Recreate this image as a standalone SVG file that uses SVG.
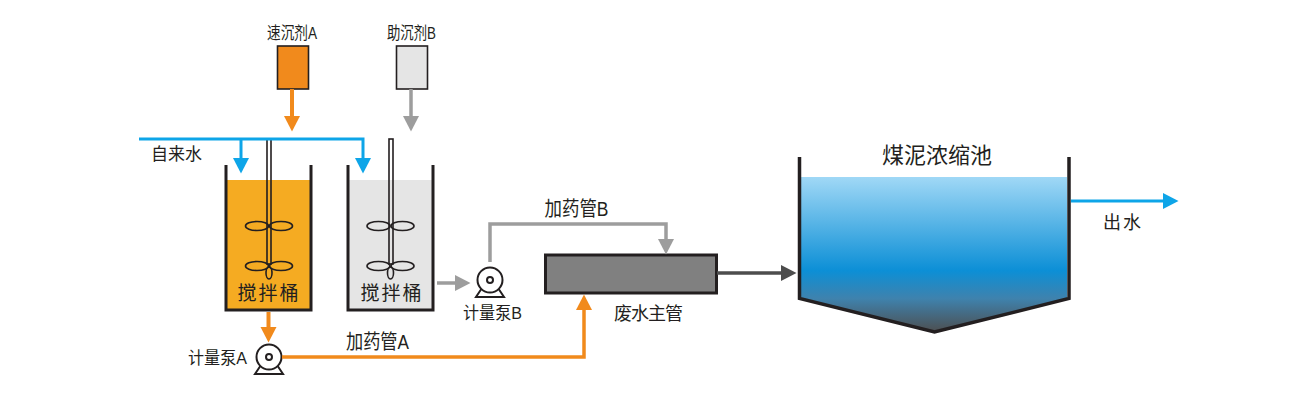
<svg xmlns="http://www.w3.org/2000/svg" width="1300" height="400" viewBox="0 0 1300 400">
<style>
text{font-family:"Liberation Sans","Noto Sans CJK SC",sans-serif;fill:#231f20;text-anchor:middle}
.wall{fill:none;stroke:#231f20;stroke-width:3}
.blade{fill:none;stroke:#231f20;stroke-width:1.6}
.shaft{fill:none;stroke:#231f20;stroke-width:1.6}
.c{fill:none}
.o{stroke:#f18a1c;stroke-width:4}
.g{stroke:#9d9d9d;stroke-width:3.5}
.b{stroke:#0ea5e8;stroke-width:3}
.d{stroke:#4d4d4d;stroke-width:3.5}
</style>
<defs>
<marker id="mo" markerUnits="userSpaceOnUse" markerWidth="16" markerHeight="17" refX="1" refY="8.5" orient="auto"><path d="M0 0.5L15.500 8.500L0 16.500z" fill="#f18a1c"/></marker>
<marker id="mg" markerUnits="userSpaceOnUse" markerWidth="16" markerHeight="17" refX="1" refY="8.5" orient="auto"><path d="M0 0.500L15.500 8.500L0 16.500z" fill="#9d9d9d"/></marker>
<marker id="mb" markerUnits="userSpaceOnUse" markerWidth="16" markerHeight="17" refX="1" refY="8.5" orient="auto"><path d="M0 0.500L15.500 8.500L0 16.500z" fill="#0ea5e8"/></marker>
<marker id="md" markerUnits="userSpaceOnUse" markerWidth="16" markerHeight="17" refX="1" refY="8.5" orient="auto"><path d="M0 0.500L15.500 8.500L0 16.500z" fill="#4d4d4d"/></marker>
<linearGradient id="water" x1="0" y1="177" x2="0" y2="333" gradientUnits="userSpaceOnUse">
<stop offset="0" stop-color="#a0d8f6"/><stop offset="0.6" stop-color="#0c8fd6"/><stop offset="0.78" stop-color="#3f82ad"/><stop offset="1" stop-color="#4d4d4d"/>
</linearGradient>
<g id="impeller">
<ellipse class="blade" cx="-12" cy="0" rx="11.500" ry="4.500"/><ellipse class="blade" cx="12" cy="0" rx="11.500" ry="4.500"/>
<ellipse class="blade" cx="-12" cy="40" rx="11.500" ry="4.500"/><ellipse class="blade" cx="12" cy="40" rx="11.500" ry="4.500"/>
<ellipse class="blade" cx="0" cy="47" rx="3" ry="6"/>
</g>
<g id="pump">
<path d="M-8 8L-14 17H14L8 8" fill="#fff" stroke="#231f20" stroke-width="2"/>
<circle r="12.500" fill="#fff" stroke="#231f20" stroke-width="2"/>
<circle r="3" fill="#fff" stroke="#231f20" stroke-width="2"/>
</g>
</defs>
<rect width="1300" height="400" fill="#fff"/>

<g id="tank-a">
<rect x="226" y="180" width="85" height="130" fill="#f5ab22"/>
<rect class="shaft" x="267" y="139" width="4" height="125"/>
<use href="#impeller" x="269" y="226"/>
<path class="wall" d="M226 165V310H311V165"/>
<text x="268" y="300" font-size="19" textLength="61">搅拌桶</text>
</g>
<g id="tank-b">
<rect x="348" y="180" width="85" height="130" fill="#e5e5e5"/>
<rect class="shaft" x="389" y="139" width="4" height="125"/>
<use href="#impeller" x="390.500" y="226"/>
<path class="wall" d="M348 165V310H433V165"/>
<text x="391" y="300" font-size="19" textLength="61">搅拌桶</text>
</g>
<g id="reagent-a">
<rect x="277.500" y="46" width="31" height="43" fill="#f18a1c" stroke="#231f20" stroke-width="1.6"/>
<text x="292" y="39" font-size="17" textLength="50" lengthAdjust="spacingAndGlyphs">速沉剂A</text>
</g>
<g id="reagent-b">
<rect x="396.500" y="46" width="31" height="43" fill="#e5e5e5" stroke="#231f20" stroke-width="1.6"/>
<text x="411.500" y="39" font-size="17" textLength="49" lengthAdjust="spacingAndGlyphs">助沉剂B</text>
</g>
<g id="pump-a">
<use href="#pump" x="269" y="357"/>
<text x="217.500" y="364" font-size="17" textLength="59" lengthAdjust="spacingAndGlyphs">计量泵A</text>
</g>
<g id="pump-b">
<use href="#pump" x="490" y="280"/>
<text x="492.500" y="319" font-size="17" textLength="59" lengthAdjust="spacingAndGlyphs">计量泵B</text>
</g>
<g id="main-pipe">
<rect x="545.500" y="255" width="171" height="38" fill="#808080" stroke="#231f20" stroke-width="3"/>
<text x="648.500" y="320" font-size="18" textLength="69">废水主管</text>
</g>
<g id="basin">
<path d="M801 177H1067V299L934 331L801 299z" fill="url(#water)"/>
<path d="M799.500 157V298.500L934.500 332L1069 298.500V157" fill="none" stroke="#231f20" stroke-width="3.500"/>
<text x="937" y="163" font-size="22" textLength="110">煤泥浓缩池</text>
</g>

<g id="connectors" class="c">
<path class="c b" d="M139 139H363V159" marker-end="url(#mb)"/>
<path class="c b" d="M241 139V159" marker-end="url(#mb)"/>
<path class="c o" d="M292 89V117" marker-end="url(#mo)"/>
<path class="c g" d="M411 89V117" marker-end="url(#mg)"/>
<path class="c o" d="M268.500 312V328" marker-end="url(#mo)"/>
<path class="c o" style="stroke-width:3.500" d="M282 357H584V309" marker-end="url(#mo)"/>
<path class="c g" d="M437 283H456" marker-end="url(#mg)"/>
<path class="c g" d="M490 262V224H666V240" marker-end="url(#mg)"/>
<path class="c d" d="M717 273H782" marker-end="url(#md)"/>
<path class="c b" d="M1071 201H1164" marker-end="url(#mb)"/>
</g>

<text x="176.500" y="160" font-size="17" textLength="51">自来水</text>
<text x="377.500" y="349" font-size="20" textLength="63" lengthAdjust="spacingAndGlyphs">加药管A</text>
<text x="576.500" y="216" font-size="20" textLength="64" lengthAdjust="spacingAndGlyphs">加药管B</text>
<text x="1122" y="229" font-size="18" textLength="38">出水</text>
</svg>
